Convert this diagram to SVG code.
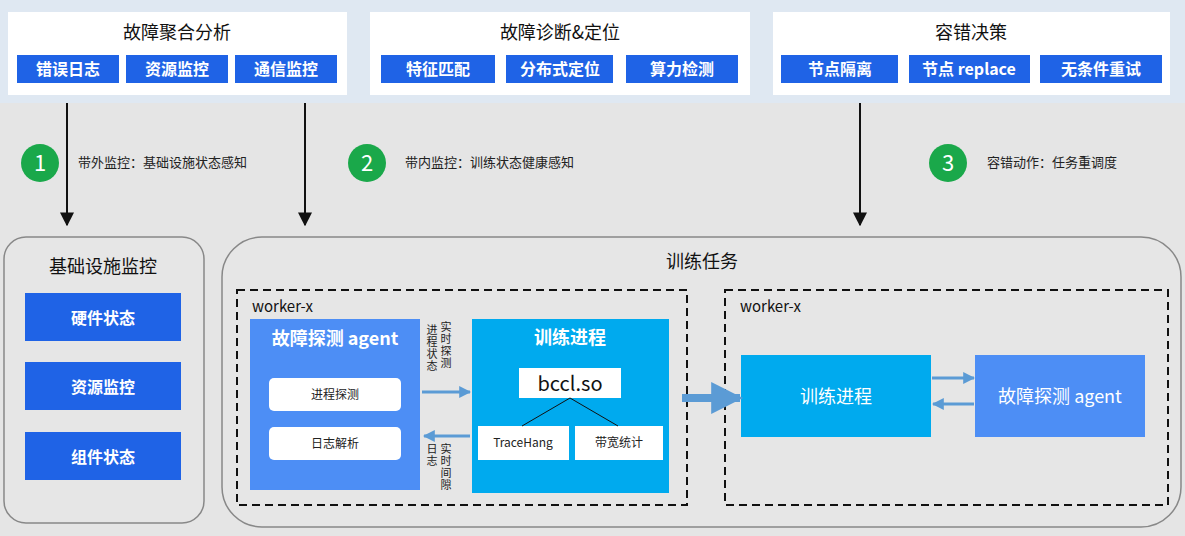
<svg xmlns="http://www.w3.org/2000/svg" width="1185" height="536" viewBox="0 0 1185 536">
<defs>
<style>
text{font-family:"Noto Sans CJK SC","Liberation Sans",sans-serif;}
.panel{fill:#fff}
.sub{fill:#1f63e6}
.subt{fill:#fff;font-size:16px;font-weight:bold;text-anchor:middle}
.tt{fill:#111;font-size:18px;text-anchor:middle}
.lab{fill:#222;font-size:13px}
.vl{fill:#222;font-size:11px;writing-mode:vertical-rl;letter-spacing:1px}
.bt{fill:#222;font-size:12px;text-anchor:middle}
</style>
<marker id="ab" viewBox="0 0 10 10" refX="9" refY="5" markerWidth="7" markerHeight="7" orient="auto"><path d="M0,0L10,5L0,10z" fill="#111"/></marker>
<marker id="abl" viewBox="0 0 10 10" refX="9" refY="5" markerWidth="4" markerHeight="4" orient="auto"><path d="M0,0L10,5L0,10z" fill="#5b9bd5"/></marker>
</defs>
<rect width="1185" height="536" fill="#e5e5e5"/>
<rect width="1185" height="103" fill="#dfe8f2"/>
<g id="p1"><rect class="panel" x="8" y="12" width="339" height="83"/><text class="tt" x="177" y="39">故障聚合分析</text>
<rect class="sub" x="17" y="55" width="102" height="28"/><text class="subt" x="68" y="75">错误日志</text>
<rect class="sub" x="126" y="55" width="102" height="28"/><text class="subt" x="177" y="75">资源监控</text>
<rect class="sub" x="235" y="55" width="102" height="28"/><text class="subt" x="286" y="75">通信监控</text></g>
<g id="p2"><rect class="panel" x="370" y="12" width="380" height="83"/><text class="tt" x="560" y="39">故障诊断&amp;定位</text>
<rect class="sub" x="381" y="55" width="114" height="28"/><text class="subt" x="438" y="75">特征匹配</text>
<rect class="sub" x="506" y="55" width="107" height="28"/><text class="subt" x="560" y="75">分布式定位</text>
<rect class="sub" x="626" y="55" width="112" height="28"/><text class="subt" x="682" y="75">算力检测</text></g>
<g id="p3"><rect class="panel" x="773" y="12" width="397" height="83"/><text class="tt" x="971" y="39">容错决策</text>
<rect class="sub" x="781" y="55" width="117" height="28"/><text class="subt" x="840" y="75">节点隔离</text>
<rect class="sub" x="909" y="55" width="121" height="28"/><text class="subt" x="969" y="75">节点 replace</text>
<rect class="sub" x="1040" y="55" width="122" height="28"/><text class="subt" x="1101" y="75">无条件重试</text></g>
<g id="steps">
<circle cx="40" cy="163" r="19" fill="#1aa84a"/><text x="40" y="171" fill="#fff" font-size="22" text-anchor="middle" font-family="Liberation Sans">1</text><text class="lab" x="78" y="167">带外监控：基础设施状态感知</text>
<circle cx="367" cy="163" r="19" fill="#1aa84a"/><text x="367" y="171" fill="#fff" font-size="22" text-anchor="middle" font-family="Liberation Sans">2</text><text class="lab" x="405" y="167">带内监控：训练状态健康感知</text>
<circle cx="948" cy="163" r="19" fill="#1aa84a"/><text x="948" y="171" fill="#fff" font-size="22" text-anchor="middle" font-family="Liberation Sans">3</text><text class="lab" x="987" y="167">容错动作：任务重调度</text>
</g>
<g id="infra"><rect x="4" y="237" width="200" height="286" rx="22" fill="#e6e6e6" stroke="#888" stroke-width="1.5"/>
<text class="tt" x="103" y="273">基础设施监控</text>
<rect class="sub" x="25" y="293" width="156" height="48"/><text class="subt" x="103" y="324" font-size="18">硬件状态</text>
<rect class="sub" x="25" y="362" width="156" height="48"/><text class="subt" x="103" y="393" font-size="18">资源监控</text>
<rect class="sub" x="25" y="432" width="156" height="48"/><text class="subt" x="103" y="463" font-size="18">组件状态</text></g>
<g id="task"><rect x="222" y="237" width="959" height="290" rx="40" fill="#e6e6e6" stroke="#888" stroke-width="1.5"/>
<text class="tt" x="702" y="268">训练任务</text></g>
<g id="w1"><rect x="237" y="290" width="450" height="215" fill="none" stroke="#111" stroke-width="2" stroke-dasharray="8,5"/>
<text x="252" y="312" font-size="15" fill="#111">worker-x</text>
<rect x="250" y="319" width="170" height="171" fill="#4d8ef5"/><text x="335" y="345" fill="#fff" font-size="18" font-weight="bold" text-anchor="middle">故障探测 agent</text>
<rect x="269" y="378" width="132" height="33" rx="5" fill="#fff"/><text class="bt" x="335" y="399">进程探测</text>
<rect x="269" y="427" width="132" height="33" rx="5" fill="#fff"/><text class="bt" x="335" y="448">日志解析</text>
<rect x="472" y="319" width="197" height="174" fill="#00aaee"/><text x="570" y="344" fill="#fff" font-size="18" font-weight="bold" text-anchor="middle">训练进程</text>
<rect x="519" y="368" width="102" height="30" fill="#fff"/><text x="570" y="391" font-size="20" fill="#111" text-anchor="middle" font-family="Liberation Sans">bccl.so</text>
<rect x="478" y="426" width="91" height="34" fill="#fff"/><text class="bt" x="523" y="447" font-size="11">TraceHang</text>
<rect x="575" y="426" width="88" height="34" fill="#fff"/><text class="bt" x="619" y="447">带宽统计</text>
<text class="vl" x="432" y="324">进程状态</text>
<text class="vl" x="446" y="321">实时探测</text>
<text class="vl" x="432" y="443">日志</text>
<text class="vl" x="446" y="443">实时间隙</text></g>
<g id="w2"><rect x="725" y="290" width="443" height="215" fill="none" stroke="#111" stroke-width="2" stroke-dasharray="8,5"/>
<text x="740" y="312" font-size="15" fill="#111">worker-x</text>
<rect x="741" y="355" width="190" height="82" fill="#00aaee"/><text x="836" y="403" fill="#fff" font-size="18" text-anchor="middle">训练进程</text>
<rect x="975" y="355" width="170" height="82" fill="#4d8ef5"/><text x="1060" y="403" fill="#fff" font-size="18" text-anchor="middle">故障探测 agent</text></g>
<g id="connectors" fill="none">
<line x1="67" y1="103" x2="67" y2="225" stroke="#111" stroke-width="2" marker-end="url(#ab)"/>
<line x1="305" y1="103" x2="305" y2="225" stroke="#111" stroke-width="2" marker-end="url(#ab)"/>
<line x1="860" y1="103" x2="860" y2="225" stroke="#111" stroke-width="2" marker-end="url(#ab)"/>
<path d="M570,398L522,426M570,398L618,426" stroke="#111" stroke-width="1"/>
<line x1="422" y1="392" x2="470" y2="392" stroke="#5b9bd5" stroke-width="3" marker-end="url(#abl)"/>
<line x1="470" y1="436" x2="424" y2="436" stroke="#5b9bd5" stroke-width="3" marker-end="url(#abl)"/>
<line x1="682" y1="398" x2="740" y2="398" stroke="#5b9bd5" stroke-width="8" marker-end="url(#abl)"/>
<line x1="932" y1="378" x2="974" y2="378" stroke="#5b9bd5" stroke-width="3" marker-end="url(#abl)"/>
<line x1="974" y1="404" x2="933" y2="404" stroke="#5b9bd5" stroke-width="3" marker-end="url(#abl)"/>
</g>
</svg>
